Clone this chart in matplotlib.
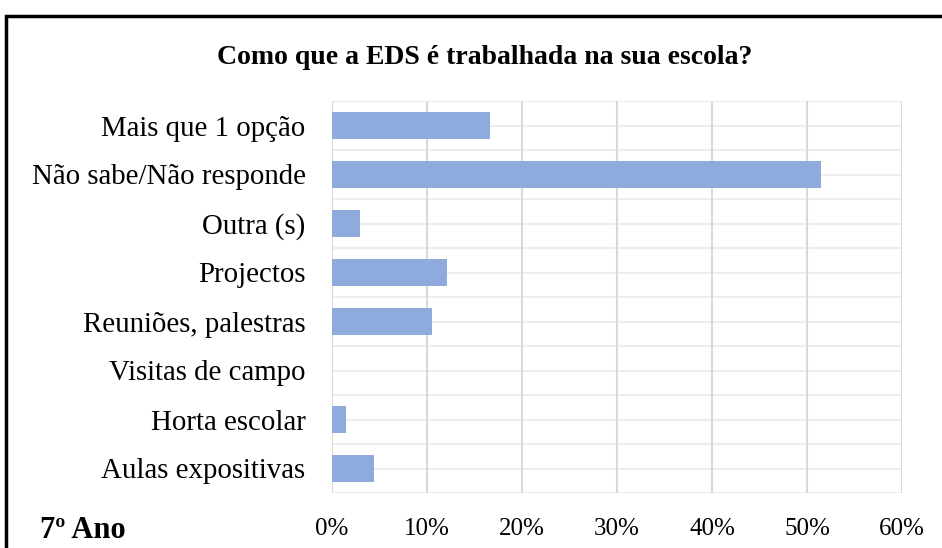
import numpy as np
import matplotlib.pyplot as plt
from matplotlib.patches import Rectangle

categories = ['Mais que 1 opção', 'Não sabe/Não responde', 'Outra (s)', 'Projectos',
              'Reuniões, palestras', 'Visitas de campo', 'Horta escolar', 'Aulas expositivas']
values = [16.6, 51.5, 2.95, 12.1, 10.5, 0.0, 1.5, 4.4]
xticks = [0, 10, 20, 30, 40, 50, 60]

plt.rcParams['font.family'] = ['Liberation Serif', 'DejaVu Serif']

fig = plt.figure(figsize=(9.42, 5.48), dpi=100)
ax = fig.add_axes([332/942, 1 - 493/548, 570/942, 392/548])

y = np.arange(len(categories))
ax.barh(y, values, height=0.57, color='#8FAADC', zorder=3)
ax.set_ylim(len(categories) - 0.5, -0.5)
ax.set_xlim(0, 60)

# faint horizontal lines every half category
for yy in np.arange(-0.5, len(categories), 0.5):
    ax.axhline(yy, color='#EDEDED', lw=1.5, zorder=1)
for xx in xticks:
    ax.axvline(xx, color='#D9D9D9', lw=1.5, zorder=2)

ax.set_yticks(y)
ax.set_yticklabels(categories, fontsize=20.8)
ax.set_xticks(xticks)
ax.set_xticklabels([f'{t}%' for t in xticks], fontsize=18)
ax.tick_params(length=0)
ax.tick_params(axis='x', pad=18)
ax.tick_params(axis='y', pad=19)
for s in ax.spines.values():
    s.set_visible(False)

fig.text(485/942, 1 - 57/548, 'Como que a EDS é trabalhada na sua escola?',
         ha='center', va='center', fontsize=20, fontweight='bold')
fig.text(40/942, 1 - 530/548, '7º Ano', ha='left', va='center',
         fontsize=22, fontweight='bold')

fig.patches.append(Rectangle((6/942, -0.1), 1.2, 1 - 16/548 + 0.1,
                             transform=fig.transFigure, fill=False,
                             edgecolor='black', lw=2.5))

fig.savefig('out.png', dpi=100)
